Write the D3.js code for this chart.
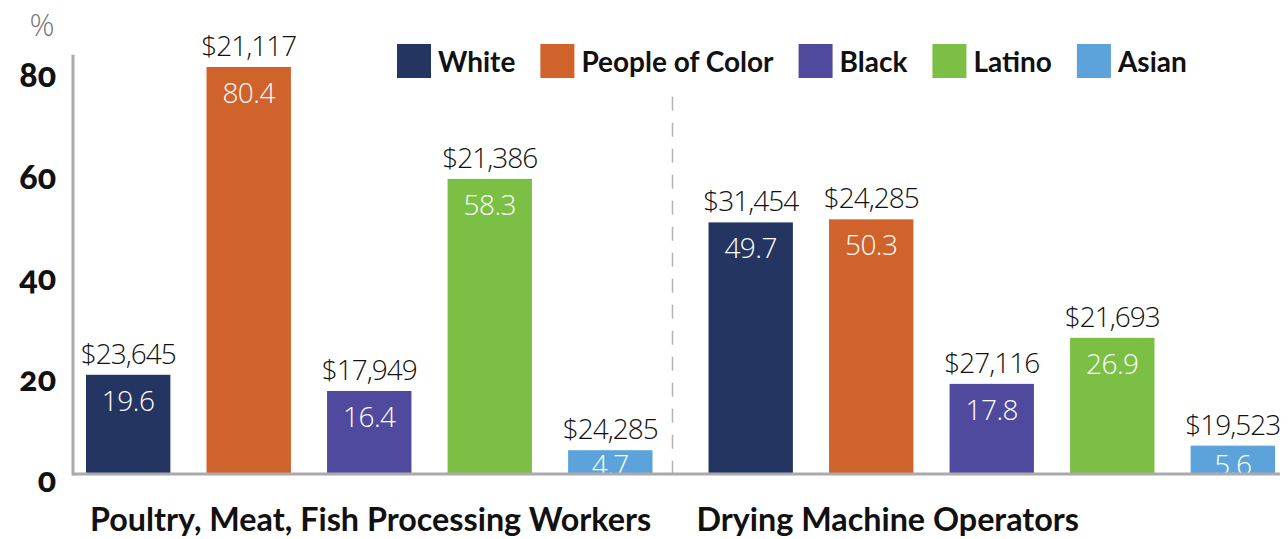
<!DOCTYPE html>
<html><head><meta charset="utf-8">
<script src="https://cdn.jsdelivr.net/npm/d3@7"></script>
<style>
html,body{margin:0;padding:0;background:#fff;}
svg{display:block;}
</style></head>
<body>
<svg id="chart" width="1288" height="539"></svg>
<script>
const groups = ["Poultry, Meat, Fish Processing Workers", "Drying Machine Operators"];
const seriesNames = ["White", "People of Color", "Black", "Latino", "Asian"];
const colors = ["#253561", "#d0622b", "#4f4a9e", "#7bbf45", "#5ba3da"];
const percentPoultry = [19.6, 80.4, 16.4, 58.3, 4.7];
const percentDrying = [49.7, 50.3, 17.8, 26.9, 5.6];
const wagesPoultry = ["$23,645", "$21,117", "$17,949", "$21,386", "$24,285"];
const wagesDrying = ["$31,454", "$24,285", "$27,116", "$21,693", "$19,523"];
const yTicks = [0, 20, 40, 60, 80];

const percents = [percentPoultry, percentDrying];
const wages = [wagesPoultry, wagesDrying];

const svg = d3.select("#chart");
const baseY = 474;
const y = d3.scaleLinear().domain([0, 80]).range([baseY, 69]);
const x0 = d3.scaleBand().domain(groups).range([86, 1275]).paddingInner(0.09);
const x1 = d3.scaleBand().domain(seriesNames).range([0, x0.bandwidth()]).paddingInner(0.30);
const color = d3.scaleOrdinal().domain(seriesNames).range(colors);

const lightFont = "'Open Sans', sans-serif";
const boldFont = "Lato, 'Open Sans', sans-serif";

svg.append("defs").append("clipPath").attr("id", "plotclip")
  .append("rect").attr("x", 0).attr("y", 0).attr("width", 1288).attr("height", baseY - 1);

// divider dashed line
const divX = (x0(groups[0]) + x0.bandwidth() + x0(groups[1])) / 2 - 8;
svg.append("line")
  .attr("x1", divX).attr("x2", divX)
  .attr("y1", y(74.5)).attr("y2", baseY)
  .attr("stroke", "#b3b3b3").attr("stroke-width", 1.5)
  .attr("stroke-dasharray", "14,12");

const data = [];
groups.forEach((g, gi) => seriesNames.forEach((s, si) => {
  data.push({g, s, v: percents[gi][si], w: wages[gi][si]});
}));

const plot = svg.append("g");
plot.selectAll("rect.bar").data(data).join("rect")
  .attr("class", "bar")
  .attr("x", d => x0(d.g) + x1(d.s))
  .attr("y", d => y(d.v))
  .attr("width", x1.bandwidth())
  .attr("height", d => baseY - y(d.v))
  .attr("fill", d => color(d.s));

// value labels inside bars
plot.append("g").attr("clip-path", "url(#plotclip)")
  .selectAll("text").data(data).join("text")
  .attr("x", d => x0(d.g) + x1(d.s) + x1.bandwidth() / 2)
  .attr("y", d => Math.min(y(d.v) + 36, baseY + 1))
  .attr("text-anchor", "middle")
  .attr("fill", "#fff")
  .attr("font-family", lightFont).attr("font-weight", 300)
  .attr("font-size", 28).attr("letter-spacing", -0.5)
  .text(d => d.v.toFixed(1));

// wage labels above bars
plot.selectAll("text.wage").data(data).join("text")
  .attr("class", "wage")
  .attr("x", d => x0(d.g) + x1(d.s) + x1.bandwidth() / 2)
  .attr("y", d => y(d.v) - 11)
  .attr("text-anchor", "middle")
  .attr("fill", "#111")
  .attr("font-family", lightFont).attr("font-weight", 300)
  .attr("font-size", 28)
  .attr("letter-spacing", -1)
  .text(d => d.w);

// axes lines
svg.append("line").attr("x1", 73).attr("x2", 73)
  .attr("y1", y(82.8)).attr("y2", baseY + 1.5)
  .attr("stroke", "#aaaaae").attr("stroke-width", 3);
svg.append("line").attr("x1", 72).attr("x2", 1280)
  .attr("y1", baseY).attr("y2", baseY)
  .attr("stroke", "#aaaaae").attr("stroke-width", 3);

// y tick labels
const yAxis = d3.axisLeft(y).tickValues(yTicks).tickSize(0).tickPadding(0);
const ya = svg.append("g").attr("transform", "translate(56,7)").call(yAxis);
ya.select(".domain").remove();
ya.selectAll("text")
  .attr("font-family", boldFont).attr("font-weight", 900)
  .attr("font-size", 34).attr("fill", "#111")
  .style("font-variant-numeric", "oldstyle-nums");

// % label
svg.append("text").attr("x", 42).attr("y", 36).attr("text-anchor", "middle")
  .attr("font-family", lightFont).attr("font-weight", 300)
  .attr("font-size", 31).attr("fill", "#777").text("%");

// category labels
svg.selectAll("text.cat").data(groups).join("text")
  .attr("class", "cat")
  .attr("x", (d, i) => x0(d) + (i === 0 ? 4 : -12))
  .attr("y", 531)
  .attr("font-family", boldFont).attr("font-weight", 700)
  .attr("font-size", 32.3).attr("fill", "#111")
  .text(d => d);

// legend
const legend = svg.append("g");
let lx = 397;
seriesNames.forEach((s, i) => {
  legend.append("rect").attr("x", lx).attr("y", 44).attr("width", 34).attr("height", 34)
    .attr("fill", color(s));
  const t = legend.append("text").attr("x", lx + 41).attr("y", 72)
    .attr("font-family", boldFont).attr("font-weight", 700)
    .attr("font-size", 28).attr("fill", "#111").text(s);
  lx += 41 + t.node().getComputedTextLength() + 25;
});
</script>
</body></html>
